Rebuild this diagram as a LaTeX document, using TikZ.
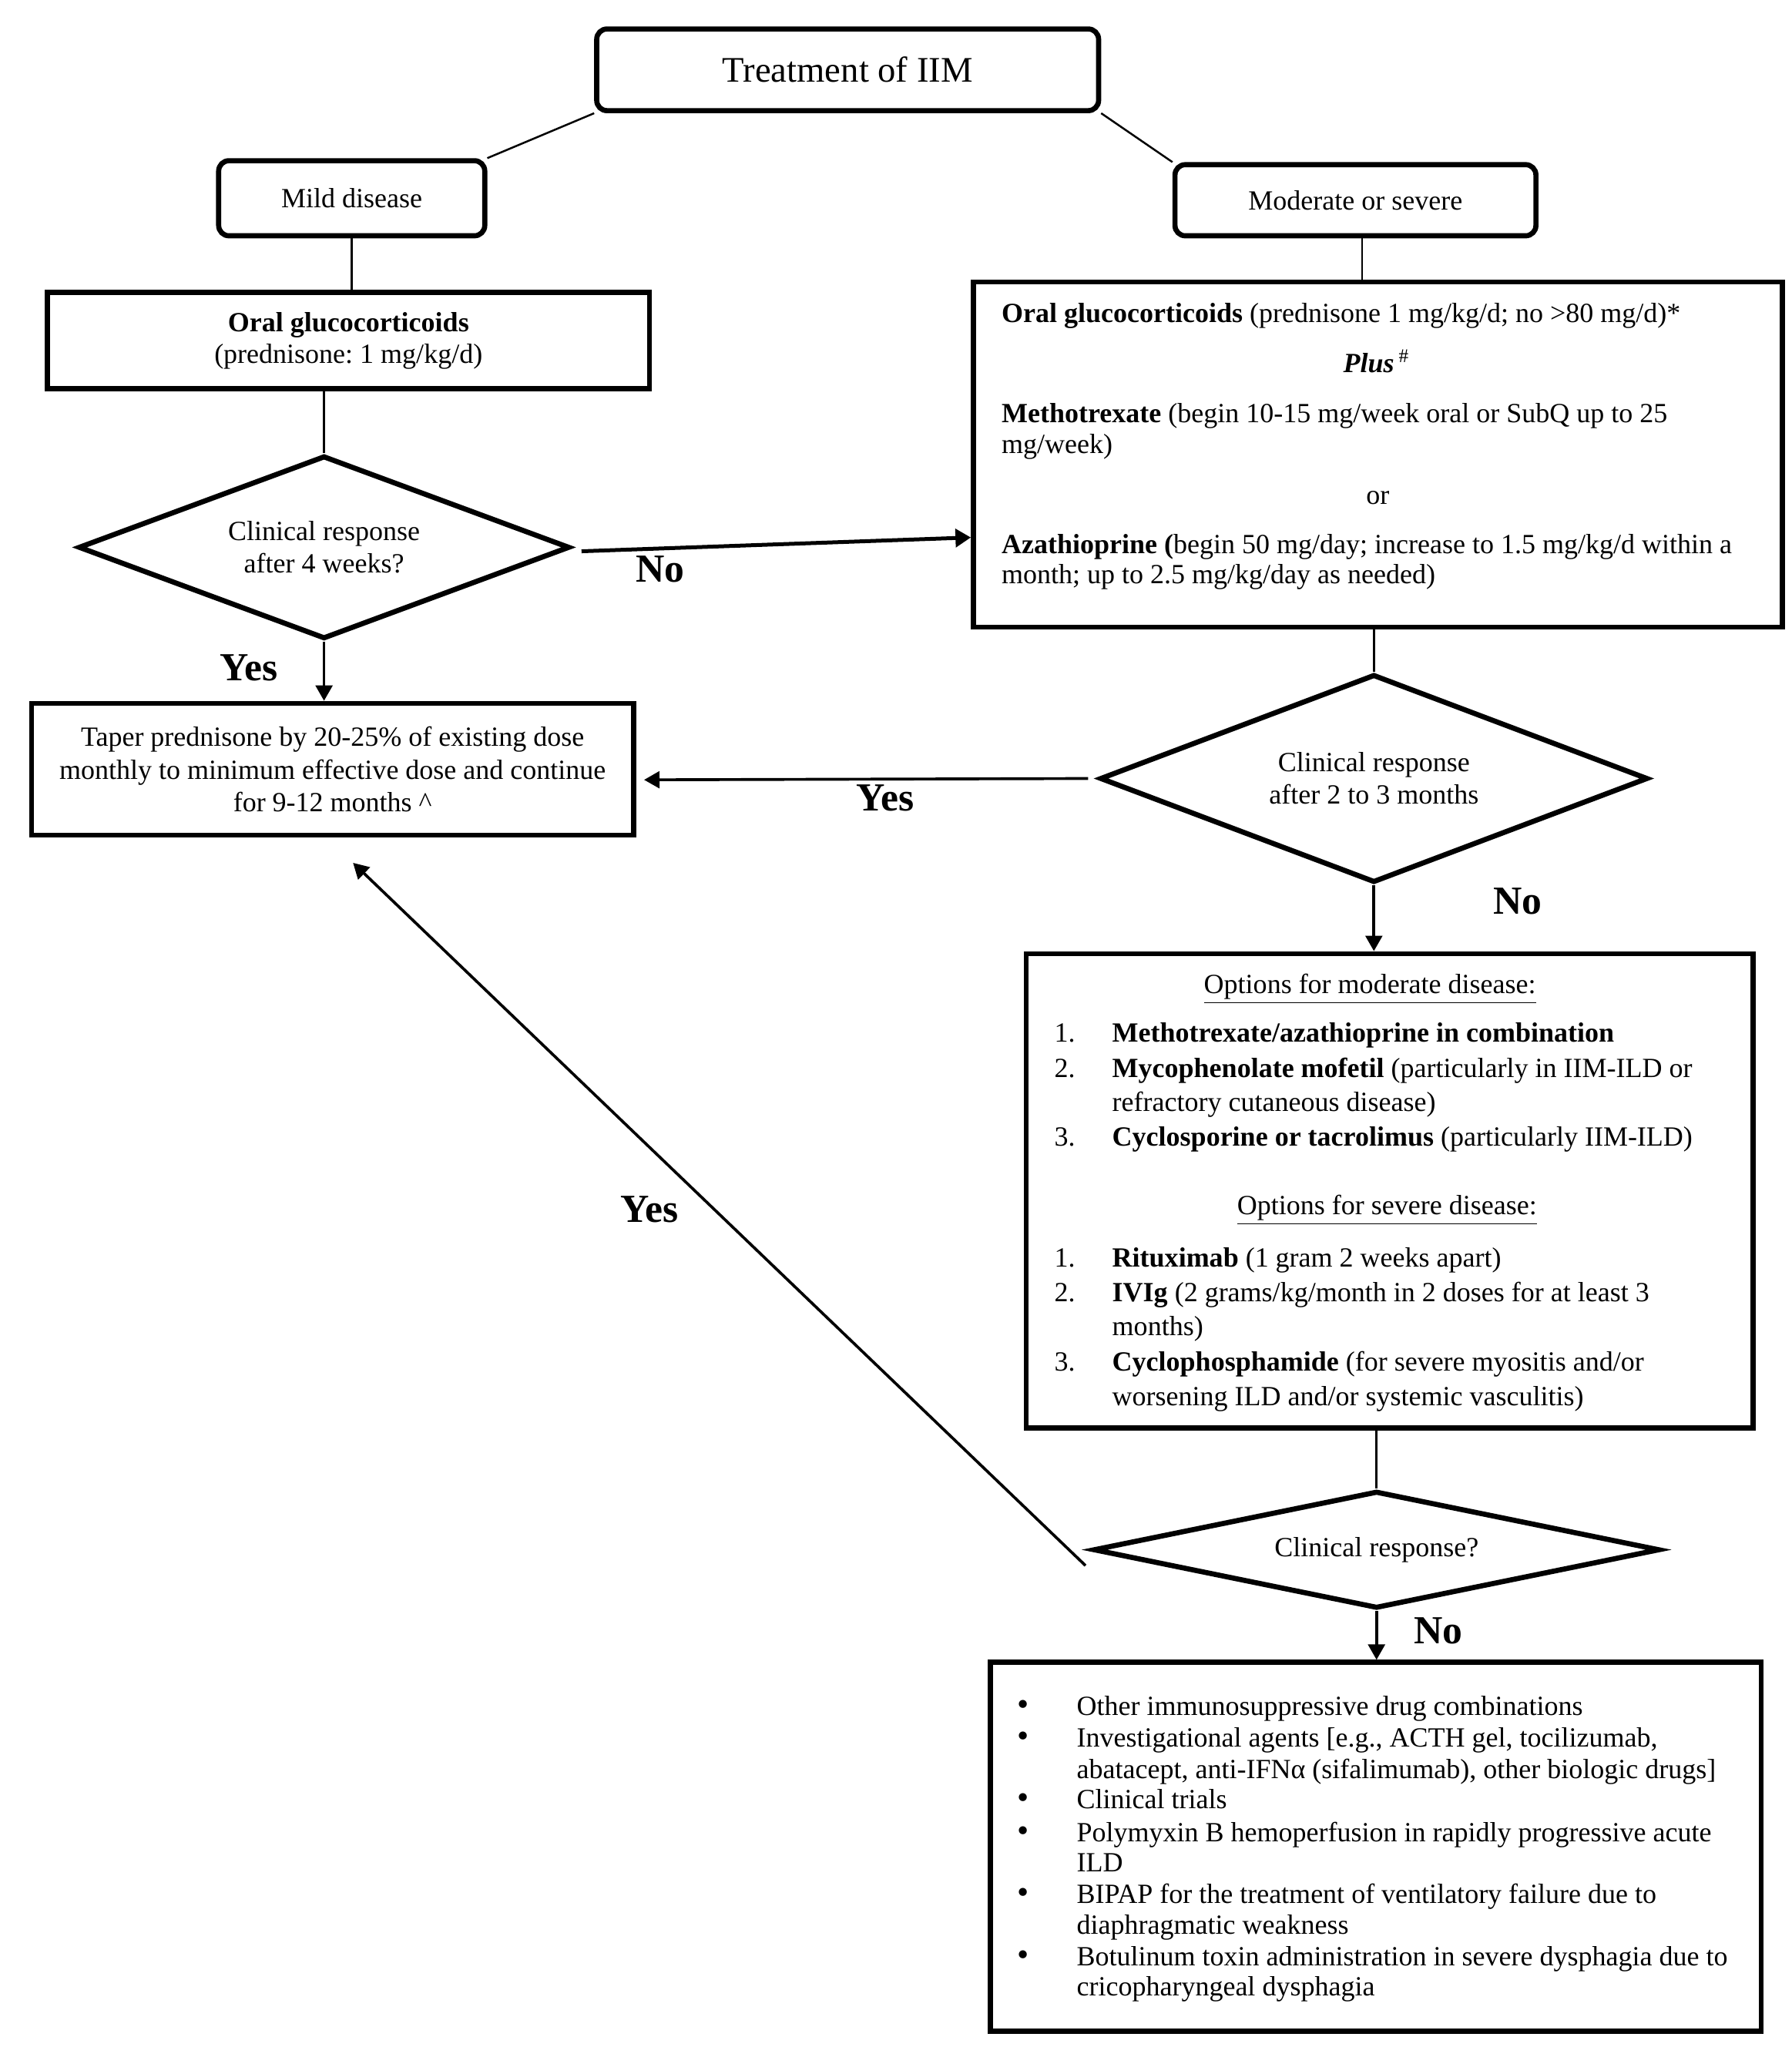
\documentclass[tikz,border=0pt]{standalone}
\usepackage{fontspec}
\setmainfont{Liberation Serif}
\usetikzlibrary{arrows.meta,shapes.geometric,calc}
\def\pxu{0.5129pt}
\newcommand\myBody{\fontsize{10.8}{12.6}\selectfont}
\newcommand\myTitle{\fontsize{14}{16}\selectfont}
\newcommand\myLab{\fontsize{15.5}{18}\selectfont\bfseries}
\newcommand\myDot{\fontsize{13}{13}\selectfont •}
\newcommand\twoline[3]{\fontsize{10.8}{#1}\selectfont\begin{tabular}[t]{@{}l@{}}#2\\#3\end{tabular}}
\frenchspacing
\begin{document}
\frenchspacing
\begin{tikzpicture}[x=0.5129pt,y=-0.5129pt,
  rbox/.style={draw,line width=2pt,rounded corners=4pt,inner sep=0pt},
  sbox/.style={draw,line width=2pt,inner sep=0pt},
  sz/.style 2 args={minimum width={#1*\pxu},minimum height={#2*\pxu}},
  dia/.style={draw,diamond,line width=2pt,inner sep=0pt,align=center,font={\fontsize{10.8}{12.6}\selectfont}},
  conn/.style={line width=0.75pt},
  arr/.style={line width=1.1pt,-{Triangle[length=6pt,width=6.5pt]}},
  lab/.style={font=\myLab,inner sep=0pt},
  tl/.style={inner sep=0pt,anchor=base west,font=\myBody},
  tc/.style={inner sep=0pt,anchor=base,font=\myBody}]
\useasboundingbox (0,0) rectangle (1360,1554);
\fill[white] (0,0) rectangle (1360,1554);

% top boxes
\node[rbox,sz={381}{62},font=\myTitle] (title) at (643.5,53) {Treatment of IIM};
\node[rbox,sz={202}{57},font=\myBody] (mild) at (267,150.5) {Mild disease};
\node[rbox,sz={274}{54},font=\myBody] (mod) at (1029,152) {Moderate or severe};

% left oral box
\node[sbox,sz={457}{73},align=center,font={\fontsize{10.8}{12.3}\selectfont}] (oral) at (264.5,258.5) {\textbf{Oral glucocorticoids}\\(prednisone: 1 mg/kg/d)};

% right box
\node[sbox,sz={614}{262}] (rx) at (1046,345) {};
\node[tl] (rx1) at (760,245) {\textbf{Oral glucocorticoids} (prednisone 1 mg/kg/d; no >80 mg/d)*};
\node[tc] (rx2) at (1045,283) {\textbf{\textit{Plus}}\,\textsuperscript{\#}};
\node[tl] (rx3) at (760,321) {\twoline{11.8pt}{\textbf{Methotrexate} (begin 10-15 mg/week oral or SubQ up to 25}{mg/week)}};
\node[tc] (rx5) at (1046,383) {or};
\node[tl] (rx6) at (760,420) {\twoline{11.8pt}{\textbf{Azathioprine (}begin 50 mg/day; increase to 1.5 mg/kg/d within a}{month; up to 2.5 mg/kg/day as needed)}};

% diamonds
\node[dia,sz={373}{139},aspect=2.7] (d1) at (246,415.5) {Clinical response\\after 4 weeks?};
\node[dia,sz={416}{158},aspect=2.6] (d2) at (1043,591) {Clinical response\\after 2 to 3 months};
\node[dia,sz={430}{89},aspect=4.8] (d3) at (1045,1176.5) {Clinical response?};

% taper box
\node[sbox,sz={457}{100},align=center,font={\fontsize{10.8}{12.8}\selectfont}] (taper) at (252.5,584) {Taper prednisone by 20-25\% of existing dose\\monthly to minimum effective dose and continue\\for 9-12 months \^{}};

% options box
\node[sbox,sz={552}{360}] (opt) at (1055,904) {};
\node[tc] (o0) at (1040,754) {\underline{Options for moderate disease:}};
\node[tl] (o1n) at (800,791) {1.};
\node[tl] (o1) at (844,791) {\textbf{Methotrexate/azathioprine in combination}};
\node[tl] (o2n) at (800,818) {2.};
\node[tl] (o2) at (844,818) {\twoline{13.3pt}{\textbf{Mycophenolate mofetil} (particularly in IIM-ILD or}{refractory cutaneous disease)}};
\node[tl] (o3n) at (800,870) {3.};
\node[tl] (o3) at (844,870) {\textbf{Cyclosporine or tacrolimus} (particularly IIM-ILD)};
\node[tc] (s0) at (1053,922) {\underline{Options for severe disease:}};
\node[tl] (s1n) at (800,962) {1.};
\node[tl] (s1) at (844,962) {\textbf{Rituximab} (1 gram 2 weeks apart)};
\node[tl] (s2n) at (800,988) {2.};
\node[tl] (s2) at (844,988) {\twoline{13.3pt}{\textbf{IVIg} (2 grams/kg/month in 2 doses for at least 3}{months)}};
\node[tl] (s3n) at (800,1041) {3.};
\node[tl] (s3) at (844,1041) {\twoline{13.3pt}{\textbf{Cyclophosphamide} (for severe myositis and/or}{worsening ILD and/or systemic vasculitis)}};

% last box
\node[sbox,sz={585}{280}] (last) at (1044.5,1402) {};
\node[tl] (b1d) at (772,1302) {\myDot};
\node[tl] (b1) at (817,1302) {Other immunosuppressive drug combinations};
\node[tl] (b2d) at (772,1326) {\myDot};
\node[tl] (b2) at (817,1326) {\twoline{12.3pt}{Investigational agents [e.g., ACTH gel, tocilizumab,}{abatacept, anti-IFNα (sifalimumab), other biologic drugs]}};
\node[tl] (b3d) at (772,1373) {\myDot};
\node[tl] (b3) at (817,1373) {Clinical trials};
\node[tl] (b4d) at (772,1398) {\myDot};
\node[tl] (b4) at (817,1398) {\twoline{11.8pt}{Polymyxin B hemoperfusion in rapidly progressive acute}{ILD}};
\node[tl] (b5d) at (772,1445) {\myDot};
\node[tl] (b5) at (817,1445) {\twoline{11.8pt}{BIPAP for the treatment of ventilatory failure due to}{diaphragmatic weakness}};
\node[tl] (b6d) at (772,1492) {\myDot};
\node[tl] (b6) at (817,1492) {\twoline{11.8pt}{Botulinum toxin administration in severe dysphagia due to}{cricopharyngeal dysphagia}};

% connectors
\draw[conn] (title.south west) -- (mild.north east);
\draw[conn] (title.south east) -- (mod.north west);
\draw[conn] (mild.south) -- (mild.south |- oral.north);
\coordinate (mtop) at ($(mod.south)+(5,0)$);
\draw[conn] (mtop) -- (mtop |- rx.north);
\draw[conn] (d1.north |- oral.south) -- (d1.north);
\draw[line width=1.5pt,-{Triangle[length=6pt,width=7pt]}] ($(d1.east)+(7,3)$) -- ($(rx.north west)!0.737!(rx.south west)$);
\draw[arr] (d1.south) -- (d1.south |- taper.north);
\draw[conn] (d2.north |- rx.south) -- (d2.north);
\draw[arr] ($(d2.west)+(-7,0)$) -- ($(taper.east)+(6,8)$);
\draw[arr] (d2.south) -- (d2.south |- opt.north);
\draw[conn] (d3.north |- opt.south) -- (d3.north);
\coordinate (yt) at (268,655);
\draw[arr] ($(d3.west)+(-4,12)$) -- (yt);
\draw[arr] (d3.south) -- (d3.south |- last.north);

% labels
\node[lab] (no1) at (501,432) {No};
\node[lab] (yes1) at (189,507) {Yes};
\node[lab] (yes2) at (672,606) {Yes};
\node[lab] (no2) at (1152,684) {No};
\node[lab] (yes3) at (493,918) {Yes};
\node[lab] (no3) at (1092,1238) {No};
\end{tikzpicture}
\end{document}
